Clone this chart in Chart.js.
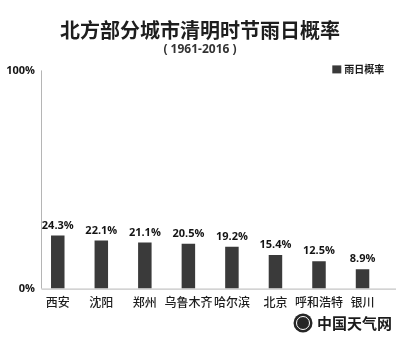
<!DOCTYPE html>
<html>
<head>
<meta charset="utf-8">
<script src="https://cdn.jsdelivr.net/npm/chart.js@4/dist/chart.umd.min.js"></script>
<style>
  html, body { margin: 0; padding: 0; background: #ffffff; }
  #wrap { width: 400px; height: 338px; position: relative; }
</style>
</head>
<body>
<div id="wrap"><canvas id="c" width="400" height="338"></canvas></div>
<script>
// Cities and their rain-day probability during the Qingming period
const cities = ['西安', '沈阳', '郑州', '乌鲁木齐', '哈尔滨', '北京', '呼和浩特', '银川'];
const rainProbability = [24.3, 22.1, 21.1, 20.5, 19.2, 15.4, 12.5, 8.9];
const yTicks = [0, 100];
const seriesName = '雨日概率';
const chartTitle = '北方部分城市清明时节雨日概率';
const chartSubtitle = '( 1961-2016 )';
const sourceMark = '中国天气网';

const FONT = '"Open Sans", "Noto Sans CJK SC", sans-serif';
const CJK = '"Noto Sans CJK SC", "Open Sans", sans-serif';
const BAR = '#3a3a3a';

// Axis lines drawn just inside the plotting area
const axisLines = {
  id: 'axisLines',
  beforeDatasetsDraw(chart) {
    const { ctx, chartArea, scales } = chart;
    const y0 = scales.y.getPixelForValue(0);
    const yTop = scales.y.getPixelForValue(100);
    const xl = chartArea.left + 5.5;
    ctx.save();
    ctx.strokeStyle = '#b5b5b5';
    ctx.lineWidth = 1;
    ctx.beginPath();
    ctx.moveTo(xl, yTop);
    ctx.lineTo(xl, y0);
    ctx.moveTo(xl, y0 + 0.5);
    ctx.lineTo(chart.width - 4, y0 + 0.5);
    ctx.stroke();
    ctx.restore();
  }
};

// Series key in the top-right corner of the plot
const seriesKey = {
  id: 'seriesKey',
  afterDraw(chart) {
    const { ctx, chartArea } = chart;
    const ds = chart.data.datasets[0];
    ctx.save();
    ctx.font = 'bold 10px ' + CJK;
    const tw = ctx.measureText(ds.label).width;
    const right = chartArea.right;
    const cy = chartArea.top - 1;
    const tx = right - tw;
    ctx.fillStyle = ds.backgroundColor;
    ctx.fillRect(tx - 12, cy - 4, 9, 8);
    ctx.fillStyle = '#1a1a1a';
    ctx.textAlign = 'left';
    ctx.textBaseline = 'middle';
    ctx.fillText(ds.label, tx, cy);
    ctx.restore();
  }
};

// Percentage labels above each bar
const valueLabels = {
  id: 'valueLabels',
  afterDatasetsDraw(chart) {
    const { ctx } = chart;
    const meta = chart.getDatasetMeta(0);
    ctx.save();
    ctx.font = 'bold 11px ' + FONT;
    ctx.fillStyle = '#141414';
    ctx.textAlign = 'center';
    ctx.textBaseline = 'middle';
    meta.data.forEach((bar, i) => {
      ctx.fillText(rainProbability[i].toFixed(1) + '%', bar.x, bar.y - 10);
    });
    ctx.restore();
  }
};

// Site mark in the bottom-right corner
const siteMark = {
  id: 'siteMark',
  afterDraw(chart) {
    const { ctx } = chart;
    ctx.save();
    const cx = 303, cy = 323;
    ctx.fillStyle = '#262626';
    ctx.beginPath();
    ctx.arc(cx, cy, 9.5, 0, Math.PI * 2);
    ctx.fill();
    ctx.strokeStyle = '#ffffff';
    ctx.lineWidth = 1;
    ctx.beginPath();
    ctx.arc(cx, cy, 6.5, 0, Math.PI * 2);
    ctx.stroke();
    ctx.font = 'bold 15px ' + CJK;
    ctx.fillStyle = '#1a1a1a';
    ctx.textAlign = 'left';
    ctx.textBaseline = 'middle';
    ctx.fillText(sourceMark, 317, 323);
    ctx.restore();
  }
};

new Chart(document.getElementById('c'), {
  type: 'bar',
  data: {
    labels: cities,
    datasets: [{
      label: seriesName,
      data: rainProbability,
      backgroundColor: BAR,
      borderWidth: 0,
      categoryPercentage: 1,
      barPercentage: 0.31
    }]
  },
  options: {
    responsive: false,
    animation: false,
    devicePixelRatio: 1,
    layout: { padding: { top: 4, right: 0, bottom: 21, left: 0 } },
    plugins: {
      title: {
        display: true,
        text: chartTitle,
        color: '#1e1e1e',
        font: { family: CJK, size: 20, weight: 'bold' },
        padding: { top: 14, bottom: 0 }
      },
      subtitle: {
        display: true,
        text: chartSubtitle,
        color: '#333333',
        font: { family: FONT, size: 12, weight: 'bold' },
        padding: { top: 0, bottom: 14 }
      },
      legend: { display: false },
      tooltip: { enabled: false }
    },
    scales: {
      x: {
        grid: { display: false, drawTicks: false },
        border: { display: false },
        ticks: {
          color: '#1e1e1e',
          padding: 7,
          autoSkip: false,
          maxRotation: 0,
          font: { family: CJK, size: 12, weight: '500' }
        }
      },
      y: {
        min: 0,
        max: 100,
        afterFit(scale) { scale.width = 36; },
        afterBuildTicks(scale) { scale.ticks = yTicks.map(v => ({ value: v })); },
        grid: { display: false, drawTicks: false },
        border: { display: false },
        ticks: {
          color: '#141414',
          padding: 1,
          font: { family: FONT, size: 11, weight: 'bold' },
          callback: v => v + '%'
        }
      },
      // empty right-hand margin axis
      yRight: {
        position: 'right',
        afterFit(scale) { scale.width = 15.7; },
        grid: { display: false, drawTicks: false },
        border: { display: false },
        ticks: { display: false }
      }
    }
  },
  plugins: [axisLines, seriesKey, valueLabels, siteMark]
});
</script>
</body>
</html>
